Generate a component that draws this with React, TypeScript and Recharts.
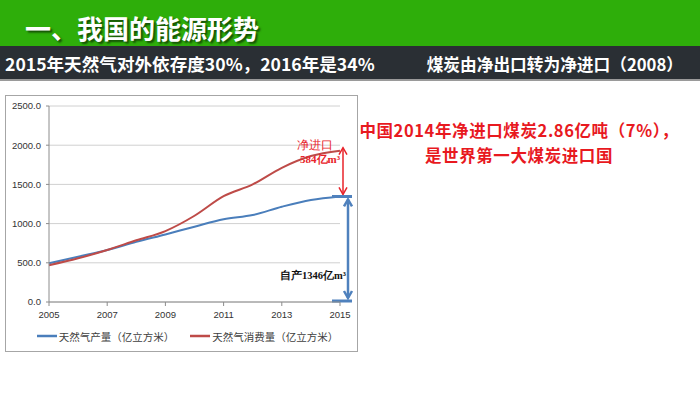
import React from 'react';
import { LineChart, Line, XAxis, YAxis, CartesianGrid, Legend, ReferenceLine } from 'recharts';

const years = ['2005', '2006', '2007', '2008', '2009', '2010', '2011', '2012', '2013', '2014', '2015'];
const production = [493, 578, 663, 767, 862, 960, 1055, 1110, 1215, 1301, 1346];
const consumption = [468, 557, 663, 787, 905, 1100, 1350, 1500, 1712, 1862, 1930];
const yTicks = [0, 500, 1000, 1500, 2000, 2500];
const xTicks = ['2005', '2007', '2009', '2011', '2013', '2015'];
const seriesNames = ['天然气产量（亿立方米）', '天然气消费量（亿立方米）'];
const lastYear = '2015';
const selfProduced = 1346;
const totalConsumed = 1930;

const data = years.map((y, i) => ({ year: y, prod: production[i], cons: consumption[i] }));

const BLUE = '#4A7EBB';
const RED = '#BE4B48';
const ARROW_RED = '#E8232A';
const ARROW_BLUE = '#4F81BD';

const arrowHead = (x: number, y: number, dir: number, color: string, w: number) => (
  <polyline
    points={`${x - 4},${y + dir * 7} ${x},${y} ${x + 4},${y + dir * 7}`}
    fill="none"
    stroke={color}
    strokeWidth={w}
  />
);

const redArrowShape = (p: any) => {
  const x = p.x1 + 3;
  const yTop = Math.min(p.y1, p.y2) - 3;
  const yBot = Math.max(p.y1, p.y2) - 2;
  return (
    <g>
      <line x1={x} y1={yTop} x2={x} y2={yBot} stroke={ARROW_RED} strokeWidth={1.5} />
      {arrowHead(x, yTop, 1, ARROW_RED, 1.5)}
      {arrowHead(x, yBot, -1, ARROW_RED, 1.5)}
      <text x={p.x1 - 25} y={yTop + 1} textAnchor="middle" fill={ARROW_RED} fontSize={11.5} fontFamily="serif">净进口</text>
      <text x={p.x1 - 20} y={yTop + 15} textAnchor="middle" fill={ARROW_RED} fontSize={11} fontWeight="bold" fontFamily="serif">{`${totalConsumed - selfProduced}亿m³`}</text>
    </g>
  );
};

const blueArrowShape = (p: any) => {
  const x = p.x1 + 8;
  const yTop = Math.min(p.y1, p.y2);
  const yBot = Math.max(p.y1, p.y2);
  return (
    <g>
      <line x1={p.x1 - 8} y1={yTop} x2={p.x1 + 12} y2={yTop} stroke={ARROW_BLUE} strokeWidth={3} />
      <line x1={p.x1 - 8} y1={yBot - 1} x2={p.x1 + 12} y2={yBot - 1} stroke={ARROW_BLUE} strokeWidth={3} />
      <line x1={x} y1={yTop + 3} x2={x} y2={yBot - 4} stroke={ARROW_BLUE} strokeWidth={2.5} />
      {arrowHead(x, yTop + 3, 1, ARROW_BLUE, 2.5)}
      {arrowHead(x, yBot - 4, -1, ARROW_BLUE, 2.5)}
      <text x={p.x1 - 27} y={yBot - 23} textAnchor="middle" fill="#111" fontSize={10.5} fontWeight="bold" fontFamily="serif">{`自产${selfProduced}亿m³`}</text>
    </g>
  );
};

const renderLegend = (props: any) => {
  const payload = props.payload || [];
  return (
    <div style={{ display: 'flex', justifyContent: 'center', alignItems: 'center', height: 20, gap: 16, paddingLeft: 30 }}>
      {payload.map((e: any) => (
        <div key={e.value} style={{ display: 'flex', alignItems: 'center' }}>
          <svg width={20} height={10} style={{ marginRight: 2 }}>
            <line x1={0} y1={5} x2={20} y2={5} stroke={e.color} strokeWidth={2.5} />
          </svg>
          <span style={{ fontSize: 10.5, color: '#404040', fontFamily: '"Noto Sans CJK SC", sans-serif' }}>{e.value}</span>
        </div>
      ))}
    </div>
  );
};

export default function App() {
  return (
    <div style={{ position: 'absolute', left: 0, top: 0, width: 700, height: 393, background: '#fff', overflow: 'hidden', fontFamily: '"Noto Sans CJK SC", sans-serif' }}>
      <div style={{ position: 'absolute', left: 0, top: 0, width: 700, height: 46, background: '#2EAE0A' }} />
      <div style={{ position: 'absolute', left: 25, top: 10, lineHeight: '36px', fontSize: 26, fontWeight: 'bold', color: '#fff', textShadow: '2px 2px 2px rgba(0,0,0,0.55)', whiteSpace: 'nowrap' }}>一、我国的能源形势</div>
      <div style={{ position: 'absolute', left: 0, top: 46, width: 700, height: 33, background: '#2A2F34', borderBottom: '2px solid #9a9a9a' }} />
      <div style={{ position: 'absolute', left: 5, top: 50, lineHeight: '28px', fontSize: 17.6, fontWeight: 'bold', color: '#fff', whiteSpace: 'nowrap' }}>2015年天然气对外依存度30%，2016年是34%</div>
      <div style={{ position: 'absolute', right: 17, top: 50, lineHeight: '28px', fontSize: 16.7, fontWeight: 'bold', color: '#fff', whiteSpace: 'nowrap' }}>煤炭由净出口转为净进口（2008）</div>

      <div style={{ position: 'absolute', left: 5, top: 95, width: 353, height: 257 }}>
        <LineChart width={353} height={257} data={data} margin={{ top: 11, right: 18, left: 0, bottom: 6 }}>
          <CartesianGrid vertical={false} stroke="#D0D0D0" />
          <XAxis
            dataKey="year"
            ticks={xTicks}
            interval={0}
            height={24}
            stroke="#8C8C8C"
            tickSize={4}
            tickMargin={5}
            tick={{ fontSize: 9.5, fill: '#333', fontFamily: '"Liberation Sans", Arial, sans-serif' }}
          />
          <YAxis
            domain={[0, 2500]}
            ticks={yTicks}
            width={44}
            stroke="#8C8C8C"
            tickSize={3}
            tickMargin={5}
            tickFormatter={(v: number) => v.toFixed(1)}
            tick={{ fontSize: 9.5, fill: '#333', fontFamily: '"Liberation Sans", Arial, sans-serif' }}
          />
          <Legend verticalAlign="bottom" align="center" height={20} content={renderLegend} />
          <Line type="monotone" dataKey="prod" name={seriesNames[0]} stroke={BLUE} strokeWidth={2} dot={false} isAnimationActive={false} />
          <Line type="monotone" dataKey="cons" name={seriesNames[1]} stroke={RED} strokeWidth={2} dot={false} isAnimationActive={false} />
          <ReferenceLine
            segment={[{ x: lastYear, y: totalConsumed }, { x: lastYear, y: selfProduced }]}
            shape={redArrowShape}
          />
          <ReferenceLine
            segment={[{ x: lastYear, y: selfProduced }, { x: lastYear, y: 0 }]}
            shape={blueArrowShape}
          />
        </LineChart>
      </div>
      <div style={{ position: 'absolute', left: 5, top: 95, width: 353, height: 257, border: '1px solid #A6A6A6', boxSizing: 'border-box', pointerEvents: 'none' }} />

      <div style={{ position: 'absolute', left: 348, top: 118, width: 342, textAlign: 'center', fontSize: 16.5, lineHeight: '25px', letterSpacing: 0.6, fontWeight: 'bold', color: '#E8191F' }}>
        <div style={{ whiteSpace: 'nowrap' }}>中国2014年净进口煤炭2.86亿吨（7%），</div>
        <div style={{ whiteSpace: 'nowrap' }}>是世界第一大煤炭进口国</div>
      </div>
    </div>
  );
}
